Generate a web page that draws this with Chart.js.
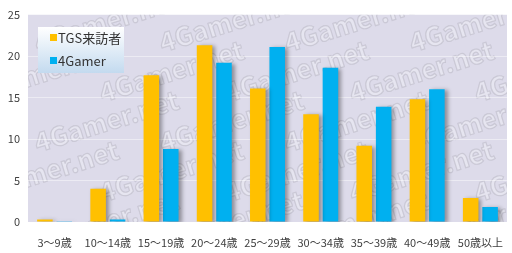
<!DOCTYPE html>
<html>
<head>
<meta charset="utf-8">
<script src="https://cdn.jsdelivr.net/npm/chart.js@4"></script>
<style>
  html, body { margin: 0; padding: 0; background: #fff; }
  #wrap { width: 512px; height: 253px; position: relative; }
</style>
</head>
<body>
<div id="wrap"><canvas id="c" width="512" height="253"></canvas></div>
<script>
// Age groups and share (%) per source
const AGE_GROUPS = ['3〜9歳', '10〜14歳', '15〜19歳', '20〜24歳', '25〜29歳', '30〜34歳', '35〜39歳', '40〜49歳', '50歳以上'];
const TGS_VALUES = [0.3, 4.0, 17.7, 21.3, 16.1, 13.0, 9.2, 14.8, 2.9];
const GAMER_VALUES = [0.1, 0.3, 8.8, 19.2, 21.1, 18.6, 13.9, 16.0, 1.8];
const SERIES_NAMES = ['TGS来訪者', '4Gamer'];
const Y_TICKS = [0, 5, 10, 15, 20, 25];

const FONT = '"Noto Sans CJK JP", "Noto Sans", sans-serif';
const COLORS = ['#FFC000', '#00B0F0'];

// lavender plot background + faint watermark text
const plotBg = {
  id: 'plotBg',
  beforeDraw(chart) {
    const { ctx, chartArea: a } = chart;
    ctx.save();
    ctx.fillStyle = '#DDDBEA';
    ctx.fillRect(a.left, a.top, a.right - a.left, a.bottom - a.top);
    ctx.beginPath();
    ctx.rect(a.left, a.top, a.right - a.left, a.bottom - a.top);
    ctx.clip();
    ctx.font = 'bold 26px ' + FONT;
    ctx.fillStyle = 'rgba(240,240,246,0.5)';
    ctx.strokeStyle = 'rgba(175,172,186,0.45)';
    ctx.lineWidth = 1.2;
    for (let row = 0; row < 5; row++) {
      for (let col = 0; col < 5; col++) {
        const x = a.left + 10 + col * 125 - (row % 2) * 60;
        const y = a.top + 38 + row * 50;
        ctx.save();
        ctx.translate(x, y);
        ctx.rotate(-0.3);
        ctx.fillText('4Gamer.net', 0, 0);
        ctx.strokeText('4Gamer.net', 0, 0);
        ctx.restore();
      }
    }
    ctx.restore();
  },
};

// grey drop shadow to the right of the bars
const barShadow = {
  id: 'barShadow',
  beforeDatasetsDraw(chart) {
    const ctx = chart.ctx;
    ctx.save();
    ctx.shadowColor = 'rgba(0,0,0,0.35)';
    ctx.shadowBlur = 4;
    ctx.shadowOffsetX = 3;
    ctx.shadowOffsetY = 1;
  },
  afterDatasetsDraw(chart) {
    chart.ctx.restore();
  },
};

// legend box sitting inside the plot area
const insetLegend = {
  id: 'insetLegend',
  afterDatasetsDraw(chart) {
    const ctx = chart.ctx;
    const x = 38, y = 27, w = 86, h = 46;
    ctx.save();
    const g = ctx.createLinearGradient(0, y, 0, y + h);
    g.addColorStop(0, '#FFFFFF');
    g.addColorStop(1, '#C3DAEF');
    ctx.fillStyle = g;
    ctx.fillRect(x, y, w, h);
    ctx.font = '13px ' + FONT;
    ctx.textBaseline = 'middle';
    chart.data.datasets.forEach((ds, i) => {
      const cy = y + 11 + i * 23;
      ctx.fillStyle = ds.backgroundColor;
      ctx.fillRect(x + 12, cy - 4, 7, 7);
      ctx.fillStyle = '#333';
      ctx.fillText(ds.label, x + 20, cy);
    });
    ctx.restore();
  },
};

new Chart(document.getElementById('c').getContext('2d'), {
  type: 'bar',
  data: {
    labels: AGE_GROUPS,
    datasets: [
      { label: SERIES_NAMES[0], data: TGS_VALUES, backgroundColor: COLORS[0] },
      { label: SERIES_NAMES[1], data: GAMER_VALUES, backgroundColor: COLORS[1] },
    ],
  },
  options: {
    responsive: false,
    animation: false,
    devicePixelRatio: 1,
    layout: { padding: { top: 12, right: 5, left: 0, bottom: 0 } },
    datasets: { bar: { categoryPercentage: 0.73, barPercentage: 0.8 } },
    plugins: {
      legend: { display: false },
      tooltip: { enabled: false },
    },
    scales: {
      x: {
        grid: { display: false },
        border: { display: false },
        ticks: { color: '#404040', font: { family: FONT, size: 11 }, maxRotation: 0, autoSkip: false, padding: 6 },
        afterFit(s) { s.height = 31; },
      },
      y: {
        min: 0, max: 25,
        afterBuildTicks(s) { s.ticks = Y_TICKS.map(v => ({ value: v })); },
        grid: { color: 'rgba(255,255,255,0.45)', drawTicks: false },
        border: { display: false },
        ticks: { color: '#404040', font: { family: FONT, size: 11 }, padding: 8 },
        afterFit(s) { s.width = 28; },
      },
    },
  },
  plugins: [plotBg, barShadow, insetLegend],
});
</script>
</body>
</html>
